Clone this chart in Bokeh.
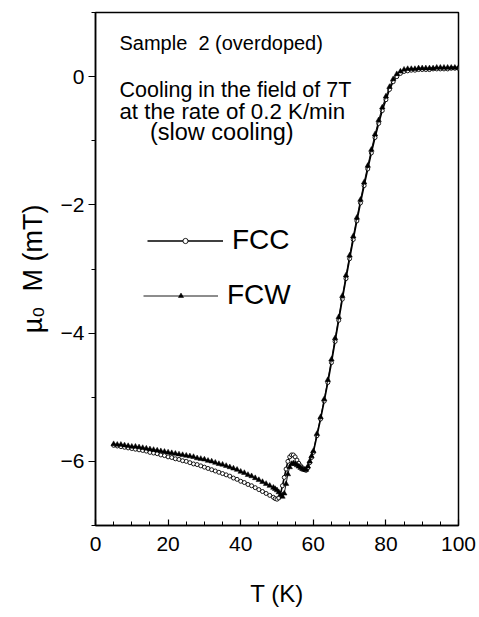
from bokeh.plotting import figure
from bokeh.models import (FixedTicker, Legend, LegendItem, Label, Range1d)
from bokeh.embed import file_html
from bokeh.resources import INLINE

# ---------------- data ----------------
T_fcc = [5, 6, 7, 8, 9, 10, 11, 12, 13, 14, 15, 16, 17, 18, 19, 20, 21, 22, 23, 24,
         25, 26, 27, 28, 29, 30, 31, 32, 33, 34, 35, 36, 37, 38, 39, 40, 41, 42, 43, 44,
         45, 46, 47, 48, 49, 49.5, 50, 50.5, 51, 51.5, 52, 52.5, 53, 53.5, 54, 54.5,
         55, 55.5, 56, 56.5, 57, 57.5, 58, 58.5, 59, 59.5, 60, 61, 62, 63, 64, 65, 66,
         67, 68, 69, 70, 71, 72, 73, 74, 75, 76, 77, 78, 79, 80, 81, 82, 83, 84, 85, 86,
         87, 88, 89, 90, 91, 92, 93, 94, 95, 96, 97, 98, 99, 100]
M_fcc = [-5.75, -5.76, -5.77, -5.78, -5.79, -5.80, -5.81, -5.82, -5.83, -5.84,
         -5.86, -5.87, -5.88, -5.90, -5.91, -5.93, -5.94, -5.96, -5.97, -5.99,
         -6.00, -6.02, -6.04, -6.05, -6.07, -6.09, -6.11, -6.13, -6.15, -6.17,
         -6.19, -6.21, -6.23, -6.26, -6.28, -6.31, -6.33, -6.36, -6.38, -6.41,
         -6.44, -6.47, -6.50, -6.53, -6.56, -6.58, -6.59, -6.57, -6.50, -6.38,
         -6.25, -6.12, -6.00, -5.93, -5.90, -5.90, -5.93, -5.98, -6.03, -6.07,
         -6.10, -6.13, -6.14, -6.10, -6.02, -5.94, -5.86, -5.60, -5.34, -5.06,
         -4.77, -4.46, -4.13, -3.80, -3.47, -3.15, -2.84, -2.54, -2.25, -1.97,
         -1.70, -1.44, -1.19, -0.95, -0.73, -0.53, -0.36, -0.20, -0.08, 0.00,
         0.05, 0.08, 0.09, 0.10, 0.10, 0.11, 0.11, 0.11, 0.11, 0.12, 0.12,
         0.12, 0.12, 0.12, 0.13, 0.13, 0.13]

T_fcw = [5, 6, 7, 8, 9, 10, 11, 12, 13, 14, 15, 16, 17, 18, 19, 20, 21, 22, 23, 24,
         25, 26, 27, 28, 29, 30, 31, 32, 33, 34, 35, 36, 37, 38, 39, 40, 41, 42, 43, 44,
         45, 46, 47, 48, 49, 49.5, 50, 50.5, 51, 51.5, 52, 52.5, 53, 53.5, 54, 54.5,
         55, 55.5, 56, 56.5, 57, 57.5, 58, 58.5, 59, 59.5, 60, 61, 62, 63, 64, 65, 66,
         67, 68, 69, 70, 71, 72, 73, 74, 75, 76, 77, 78, 79, 80, 81, 82, 83, 84, 85, 86,
         87, 88, 89, 90, 91, 92, 93, 94, 95, 96, 97, 98, 99, 100]
M_fcw = [-5.73, -5.74, -5.74, -5.75, -5.76, -5.77, -5.77, -5.78, -5.79, -5.80,
         -5.81, -5.82, -5.83, -5.84, -5.85, -5.86, -5.87, -5.88, -5.89, -5.90,
         -5.91, -5.92, -5.93, -5.95, -5.96, -5.97, -5.99, -6.00, -6.02, -6.04,
         -6.05, -6.07, -6.09, -6.11, -6.13, -6.16, -6.18, -6.21, -6.23, -6.26,
         -6.29, -6.32, -6.35, -6.38, -6.41, -6.43, -6.45, -6.48, -6.52, -6.55,
         -6.50, -6.35, -6.20, -6.09, -6.04, -6.03, -6.04, -6.06, -6.08, -6.10,
         -6.12, -6.13, -6.13, -6.08, -6.00, -5.92, -5.84, -5.57, -5.31, -5.03,
         -4.73, -4.41, -4.08, -3.75, -3.42, -3.10, -2.79, -2.49, -2.20, -1.92,
         -1.65, -1.39, -1.14, -0.90, -0.68, -0.48, -0.31, -0.16, -0.04, 0.04,
         0.08, 0.11, 0.12, 0.12, 0.12, 0.13, 0.13, 0.13, 0.13, 0.13, 0.14,
         0.14, 0.14, 0.14, 0.14, 0.14, 0.14]

x_major = [0, 20, 40, 60, 80, 100]
x_minor = [5, 10, 15, 25, 30, 35, 45, 50, 55, 65, 70, 75, 85, 90, 95]
y_major = [-6, -4, -2, 0]
y_minor = [-7, -5, -3, -1, 1]
y_labels = {-6: "\u22126", -4: "\u22124", -2: "\u22122", 0: "0"}

FONT = "Liberation Sans"

p = figure(width=477, height=609, output_backend="svg", toolbar_location=None,
           x_range=Range1d(0, 100), y_range=Range1d(-7, 1),
           min_border_left=95, min_border_right=19, min_border_top=12,
           min_border_bottom=77)
p.xgrid.visible = False
p.ygrid.visible = False
p.outline_line_color = "black"
p.outline_line_width = 1.5
p.background_fill_color = "white"
p.border_fill_color = "white"

# axes
p.xaxis.ticker = FixedTicker(ticks=x_major, minor_ticks=x_minor)
p.yaxis.ticker = FixedTicker(ticks=y_major, minor_ticks=y_minor)
p.yaxis.major_label_overrides = y_labels
for ax in (p.xaxis[0], p.yaxis[0]):
    ax.axis_line_width = 1.5
    ax.major_tick_line_width = 1.2
    ax.minor_tick_line_width = 1.0
    ax.major_label_text_font = FONT
    ax.major_label_text_font_size = "21px"
    ax.major_label_text_color = "black"
    ax.axis_label_text_font = FONT
    ax.axis_label_text_font_style = "normal"
    ax.axis_label_text_color = "black"

p.xaxis.major_tick_in = 6
p.xaxis.major_tick_out = 0
p.xaxis.minor_tick_in = 4
p.xaxis.minor_tick_out = 0
p.xaxis.major_label_standoff = 11
p.xaxis.axis_label = "T (K)"
p.xaxis.axis_label_text_font_size = "24px"
p.xaxis.axis_label_standoff = 26

p.yaxis.major_tick_in = 0
p.yaxis.major_tick_out = 7
p.yaxis.minor_tick_in = 0
p.yaxis.minor_tick_out = 4
p.yaxis.major_label_standoff = 4
p.yaxis.axis_label = "\u00b5\u2080\u00a0\u00a0M (mT)"
p.yaxis.axis_label_text_font_size = "27px"
p.yaxis.axis_label_standoff = 10

# data
l_fcc = p.line(T_fcc, M_fcc, line_color="black", line_width=1.6)
s_fcc = p.scatter(T_fcc, M_fcc, marker="circle", size=4, line_color="black",
                  fill_color="white", line_width=0.9)
l_fcw = p.line(T_fcw, M_fcw, line_color="black", line_width=0.9)
s_fcw = p.scatter(T_fcw, M_fcw, marker="triangle", size=5.5, line_color="black",
                  fill_color="black", line_width=0.5)

def make_legend(label, rends, loc, gw):
    lg = Legend(items=[LegendItem(label=label, renderers=rends)], location=loc,
                glyph_width=gw, glyph_height=13, label_height=13, label_standoff=9,
                padding=0, margin=0, spacing=0, border_line_color=None,
                background_fill_alpha=0, label_text_font=FONT,
                label_text_font_size="28px", label_text_color="black")
    return lg

p.add_layout(make_legend("FCC", [l_fcc, s_fcc], (52, 269), 76))
p.add_layout(make_legend("FCW", [l_fcw, s_fcw], (48, 214), 75))

# annotations
texts = [
    ("Sample\u00a0 2 (overdoped)", 6.6, 0.52, "20px"),
    ("Cooling in the field of 7T", 6.6, -0.205, "21.5px"),
    ("at the rate of 0.2 K/min", 6.6, -0.55, "22.3px"),
    ("(slow cooling)", 15.0, -0.87, "23.5px"),
]
for t, x, y, fs in texts:
    p.add_layout(Label(x=x, y=y, text=t, text_font=FONT, text_font_size=fs,
                       text_color="black", text_align="left",
                       text_baseline="alphabetic"))

open("out.html", "w").write(file_html(p, INLINE))
